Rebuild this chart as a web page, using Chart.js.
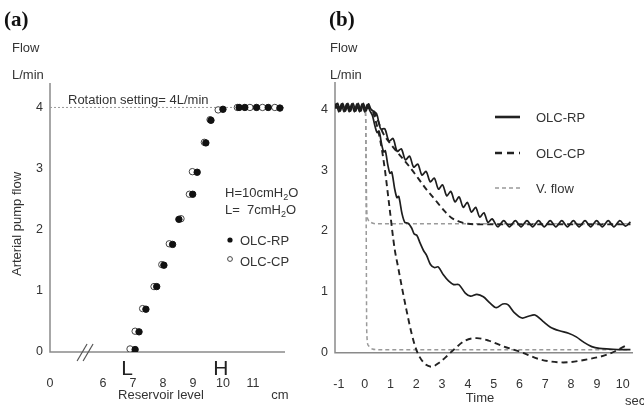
<!DOCTYPE html>
<html>
<head>
<meta charset="utf-8">
<script src="https://cdn.jsdelivr.net/npm/chart.js@4.4.1/dist/chart.umd.min.js"></script>
<style>
  html, body { margin: 0; padding: 0; background: #fff; }
  body { width: 644px; height: 409px; position: relative; overflow: hidden; font-family: "Liberation Sans", Arial, sans-serif; color: #333; }
  canvas { position: absolute; top: 0; }
  .lbl { position: absolute; font-size: 13px; line-height: 14px; white-space: nowrap; color: #333; }
  .panel { position: absolute; font: bold 21px "Liberation Serif", "Times New Roman", serif; line-height: 21px; color: #111; }
</style>
</head>
<body>
<canvas id="left" width="322" height="409" style="left:0"></canvas>
<canvas id="right" width="334" height="409" style="left:310px"></canvas>
<div class="panel" style="left:4px;top:9px">(a)</div>
<div class="panel" style="left:329px;top:9px">(b)</div>
<div class="lbl" style="left:12px;top:41px">Flow</div>
<div class="lbl" style="left:12px;top:68px">L/min</div>
<div class="lbl" style="left:330px;top:41px">Flow</div>
<div class="lbl" style="left:330px;top:68px">L/min</div>
<script>
// ---- panel (a): flow vs reservoir level ----
var levelRP = [7.07, 7.2, 7.43, 7.79, 8.03, 8.32, 8.53, 8.99, 9.14, 9.43, 9.6, 10.0, 10.54, 10.73, 11.12, 11.51, 11.9];
var flowRP = [0.04, 0.33, 0.70, 1.07, 1.42, 1.76, 2.17, 2.58, 2.94, 3.42, 3.79, 3.97, 4.0, 4.0, 4.0, 4.0, 3.99];
var levelCP = [6.9, 7.07, 7.32, 7.7, 7.96, 8.21, 8.6, 8.88, 8.98, 9.38, 9.57, 9.84, 10.48, 10.9, 11.32, 11.73];
var flowCP = [0.05, 0.34, 0.71, 1.07, 1.43, 1.77, 2.18, 2.58, 2.95, 3.43, 3.80, 3.96, 4.0, 4.0, 4.0, 4.0];
var levelTicks = [4.23, 6, 7, 8, 9, 10, 11];
var levelTickLabels = ['0', '6', '7', '8', '9', '10', '11'];
var levelMin = 4.23, levelMax = 12.07, levelBreak = 5.4;
var levelLow = 7, levelHigh = 10;
var rotationSetting = 4;
var flowTicks = [0, 1, 2, 3, 4];

// ---- panel (b): flow vs time ----
var tRPHigh = [-1.15, -1.05, -0.95, -0.85, -0.75, -0.65, -0.55, -0.45, -0.35, -0.25, -0.15, -0.05, 0.05, 0.15, 0.25,
  0.46, 0.62, 0.78, 0.94, 1.10, 1.26, 1.42, 1.58, 1.74, 1.90, 2.06, 2.22, 2.38, 2.54, 2.70, 2.86, 3.02, 3.18, 3.34,
  3.50, 3.66, 3.82, 3.98, 4.14, 4.30, 4.46, 4.62, 4.78, 4.94, 5.16, 5.39, 5.61, 5.84, 6.06, 6.29, 6.51, 6.74, 6.96,
  7.19, 7.41, 7.64, 7.86, 8.09, 8.31, 8.54, 8.76, 8.99, 9.21, 9.44, 9.66, 9.89, 10.11, 10.3];
var fRPHigh = [4.03, 4.10, 3.97, 4.10, 3.97, 4.10, 3.97, 4.10, 3.97, 4.10, 3.97, 4.10, 3.97, 4.09, 4.00,
  3.93, 3.68, 3.68, 3.48, 3.52, 3.31, 3.35, 3.17, 3.23, 3.05, 3.10, 2.92, 2.98, 2.81, 2.87, 2.69, 2.76, 2.58, 2.65,
  2.48, 2.56, 2.39, 2.47, 2.31, 2.39, 2.23, 2.30, 2.14, 2.20, 2.07, 2.17, 2.07, 2.17, 2.07, 2.17, 2.07, 2.17, 2.07,
  2.17, 2.07, 2.17, 2.07, 2.17, 2.07, 2.17, 2.07, 2.17, 2.07, 2.17, 2.07, 2.17, 2.08, 2.15];
var tRPLow = [-1.15, -1.1, -1.0, -0.9, -0.8, -0.7, -0.6, -0.5, -0.4, -0.3, -0.2, -0.1, 0.0, 0.1, 0.2,
  0.30, 0.38, 0.48, 0.56, 0.66, 0.74, 0.80, 0.90, 0.98, 1.05, 1.16, 1.25, 1.32, 1.45, 1.56, 1.68, 1.82, 1.92, 2.02,
  2.15, 2.28, 2.40, 2.55, 2.70, 2.85, 3.05, 3.25, 3.45, 3.65, 3.90, 4.10, 4.35, 4.60, 4.85, 5.10, 5.35, 5.55, 5.80,
  6.10, 6.35, 6.60, 6.90, 7.20, 7.55, 7.90, 8.20, 8.50, 8.80, 9.10, 9.50, 9.90, 10.3];
var fRPLow = [4.03, 4.09, 3.96, 4.09, 3.96, 4.09, 3.96, 4.09, 3.96, 4.09, 3.96, 4.09, 3.96, 4.08, 3.98,
  3.90, 3.76, 3.62, 3.64, 3.42, 3.30, 3.32, 3.08, 2.95, 2.97, 2.70, 2.55, 2.57, 2.28, 2.14, 2.13, 2.05, 1.95, 1.93,
  1.80, 1.68, 1.60, 1.45, 1.40, 1.41, 1.28, 1.18, 1.12, 1.12, 0.98, 0.93, 0.96, 0.92, 0.82, 0.74, 0.80, 0.79, 0.66,
  0.57, 0.60, 0.62, 0.52, 0.42, 0.36, 0.32, 0.26, 0.17, 0.10, 0.07, 0.06, 0.05, 0.05];
var tCPHigh = [-1.15, 0.25, 0.45, 0.7, 1.1, 1.42, 1.75, 2.07, 2.4, 2.72, 3.05, 3.36, 3.7, 4.0, 4.5, 10.3];
var fCPHigh = [4.03, 4.02, 3.88, 3.62, 3.38, 3.22, 3.05, 2.87, 2.68, 2.52, 2.35, 2.22, 2.15, 2.12, 2.11, 2.11];
var tCPLow = [-1.15, 0.25, 0.4, 0.6, 0.78, 0.97, 1.16, 1.29, 1.45, 1.62, 1.8, 2.0, 2.3, 2.6, 2.9, 3.2, 3.45,
  3.9, 4.35, 4.8, 5.4, 6.0, 6.8, 7.7, 8.5, 9.4, 10.15];
var fCPLow = [4.03, 4.02, 3.85, 3.5, 3.02, 2.36, 1.71, 1.42, 1.06, 0.70, 0.35, 0.05, -0.17, -0.23, -0.16, -0.05, 0.05,
  0.20, 0.24, 0.20, 0.10, 0.02, -0.11, -0.16, -0.12, -0.03, 0.12];
var tVHigh = [-1.15, 0.0, 0.04, 0.06, 0.08, 0.13, 0.25, 0.5, 10.3];
var fVHigh = [4.04, 4.04, 3.85, 3.0, 2.35, 2.19, 2.14, 2.12, 2.12];
var tVLow = [-1.15, 0.0, 0.04, 0.06, 0.08, 0.14, 0.3, 0.5, 10.3];
var fVLow = [4.04, 4.04, 3.85, 2.0, 0.35, 0.12, 0.06, 0.05, 0.05];
var timeTicks = [-1, 0, 1, 2, 3, 4, 5, 6, 7, 8, 9, 10];
var timeMin = -1.15, timeMax = 10.4;
var seriesNames = ['OLC-RP', 'OLC-CP', 'V. flow'];

var FONT = '"Liberation Sans", Arial, sans-serif';
var INK = '#333';

function pts(xs, ys) {
  return xs.map(function (v, i) { return { x: v, y: ys[i] }; });
}

// axis lines drawn from the scales (y axis down to 0, x axis along 0)
var axisLines = {
  id: 'axisLines',
  beforeDatasetsDraw: function (chart) {
    var ctx = chart.ctx, a = chart.chartArea, y0 = chart.scales.y.getPixelForValue(0);
    ctx.save();
    ctx.strokeStyle = '#8a8a8a';
    ctx.lineWidth = 1.5;
    ctx.beginPath();
    ctx.moveTo(a.left, a.top);
    ctx.lineTo(a.left, y0);
    ctx.lineTo(a.right, y0);
    ctx.stroke();
    ctx.restore();
  }
};

function subText(ctx, parts, x, y) {
  // parts: [text, isSub]
  parts.forEach(function (p) {
    ctx.font = (p[1] ? '9px ' : '13px ') + FONT;
    ctx.fillText(p[0], x, p[1] ? y + 3 : y);
    x += ctx.measureText(p[0]).width;
  });
}

var leftNotes = {
  id: 'leftNotes',
  afterDatasetsDraw: function (chart) {
    var ctx = chart.ctx, x = chart.scales.x, y = chart.scales.y, a = chart.chartArea;
    var y0 = y.getPixelForValue(0);
    ctx.save();
    ctx.fillStyle = INK;
    ctx.textAlign = 'left';
    ctx.textBaseline = 'alphabetic';
    ctx.font = '13px ' + FONT;
    ctx.fillText('Rotation setting= 4L/min', a.left + 18, y.getPixelForValue(rotationSetting) - 3);

    subText(ctx, [['H=10cmH', 0], ['2', 1], ['O', 0]], 225, 197);
    subText(ctx, [['L=  7cmH', 0], ['2', 1], ['O', 0]], 225, 214);

    // legend
    ctx.font = '13px ' + FONT;
    ctx.fillText(seriesNames[0], 240, 245);
    ctx.fillText(seriesNames[1], 240, 266);
    ctx.beginPath();
    ctx.arc(230, 240, 2.6, 0, Math.PI * 2);
    ctx.fillStyle = '#111';
    ctx.fill();
    ctx.beginPath();
    ctx.arc(230, 259, 2.4, 0, Math.PI * 2);
    ctx.fillStyle = '#fff';
    ctx.fill();
    ctx.strokeStyle = '#444';
    ctx.lineWidth = 1;
    ctx.stroke();

    // L and H marks
    ctx.fillStyle = '#222';
    ctx.textAlign = 'center';
    ctx.font = '21px ' + FONT;
    ctx.fillText('L', x.getPixelForValue(levelLow) - 6, y0 + 23);
    ctx.fillText('H', x.getPixelForValue(levelHigh) - 2, y0 + 23);

    // axis break
    var bx = x.getPixelForValue(levelBreak);
    ctx.strokeStyle = '#555';
    ctx.lineWidth = 1.2;
    [-3, 3].forEach(function (d) {
      ctx.beginPath();
      ctx.moveTo(bx + d - 5, y0 + 9);
      ctx.lineTo(bx + d + 5, y0 - 8);
      ctx.stroke();
    });

    // titles
    ctx.fillStyle = INK;
    ctx.font = '13px ' + FONT;
    ctx.fillText('Reservoir level', 161, 399);
    ctx.fillText('cm', 280, 399);
    ctx.translate(21, 224);
    ctx.rotate(-Math.PI / 2);
    ctx.fillText('Arterial pump flow', 0, 0);
    ctx.restore();
  }
};

var rightNotes = {
  id: 'rightNotes',
  afterDatasetsDraw: function (chart) {
    var ctx = chart.ctx, a = chart.chartArea;
    var styles = [
      { dash: [], color: '#222', w: 2.6 },
      { dash: [7, 5], color: '#222', w: 2.6 },
      { dash: [4, 3], color: '#999', w: 1.6 }
    ];
    var rows = [117, 153, 188];
    ctx.save();
    seriesNames.forEach(function (name, i) {
      var s = styles[i];
      ctx.strokeStyle = s.color;
      ctx.lineWidth = s.w;
      ctx.setLineDash(s.dash);
      ctx.beginPath();
      ctx.moveTo(a.left + 160, rows[i]);
      ctx.lineTo(a.left + 185, rows[i]);
      ctx.stroke();
      ctx.setLineDash([]);
      ctx.fillStyle = INK;
      ctx.font = '13px ' + FONT;
      ctx.textBaseline = 'middle';
      ctx.fillText(name, a.left + 201, rows[i] + 1);
    });
    ctx.textBaseline = 'alphabetic';
    ctx.textAlign = 'center';
    ctx.fillText('Time', 170, 402);
    ctx.textAlign = 'left';
    ctx.fillText('sec', 315, 405);
    ctx.restore();
  }
};

var tickFont = { family: FONT, size: 12.5 };

new Chart(document.getElementById('left'), {
  type: 'scatter',
  data: {
    datasets: [
      { label: seriesNames[0], data: pts(levelRP, flowRP), pointRadius: 3.2, pointBackgroundColor: '#111', pointBorderColor: '#111', pointBorderWidth: 1 },
      { label: seriesNames[1], data: pts(levelCP, flowCP), pointRadius: 3.2, pointBackgroundColor: '#fff', pointBorderColor: '#444', pointBorderWidth: 1 },
      { type: 'line', label: 'Rotation setting', data: [{ x: levelMin, y: rotationSetting }, { x: levelMax, y: rotationSetting }],
        borderColor: '#9a9a9a', borderWidth: 1, borderDash: [2, 2], pointRadius: 0 }
    ]
  },
  options: {
    responsive: false,
    animation: false,
    events: [],
    layout: { padding: { left: 0, right: 37, top: 83, bottom: 0 } },
    plugins: { legend: { display: false }, tooltip: { enabled: false } },
    scales: {
      x: {
        type: 'linear', min: levelMin, max: levelMax,
        grid: { display: false, drawTicks: false }, border: { display: false },
        afterBuildTicks: function (s) { s.ticks = levelTicks.map(function (v) { return { value: v }; }); },
        afterFit: function (s) { s.height = 57; },
        ticks: { font: tickFont, color: INK, padding: 24, maxRotation: 0,
          callback: function (v) { return levelTickLabels[levelTicks.indexOf(v)]; } }
      },
      y: {
        min: 0, max: 4.4,
        grid: { display: false, drawTicks: false }, border: { display: false },
        afterBuildTicks: function (s) { s.ticks = flowTicks.map(function (v) { return { value: v }; }); },
        afterFit: function (s) { s.width = 50; },
        ticks: { font: tickFont, color: INK, padding: 7 }
      }
    }
  },
  plugins: [axisLines, leftNotes]
});

function curve(label, xs, ys, color, width, dash, mode, order) {
  return {
    label: label, data: pts(xs, ys), borderColor: color, borderWidth: width, borderDash: dash,
    pointRadius: 0, fill: false, showLine: true, order: order,
    tension: mode === 'bezier' ? 0.3 : 0, cubicInterpolationMode: mode === 'monotone' ? 'monotone' : 'default'
  };
}

new Chart(document.getElementById('right'), {
  type: 'scatter',
  data: {
    datasets: [
      curve(seriesNames[2], tVHigh, fVHigh, '#9a9a9a', 1.5, [4, 3], 'monotone', 5),
      curve(seriesNames[2], tVLow, fVLow, '#9a9a9a', 1.5, [4, 3], 'monotone', 4),
      curve(seriesNames[1], tCPHigh, fCPHigh, '#222', 1.9, [6, 4], 'monotone', 3),
      curve(seriesNames[1], tCPLow, fCPLow, '#222', 1.9, [6, 4], 'monotone', 2),
      curve(seriesNames[0], tRPHigh, fRPHigh, '#1e1e1e', 1.7, [], 'bezier', 1),
      curve(seriesNames[0], tRPLow, fRPLow, '#1e1e1e', 1.7, [], 'bezier', 0)
    ]
  },
  options: {
    responsive: false,
    animation: false,
    events: [],
    layout: { padding: { left: 0, right: 11, top: 82, bottom: 0 } },
    plugins: { legend: { display: false }, tooltip: { enabled: false } },
    scales: {
      x: {
        type: 'linear', min: timeMin, max: timeMax,
        grid: { display: false, drawTicks: false }, border: { display: false },
        afterBuildTicks: function (s) { s.ticks = timeTicks.map(function (v) { return { value: v }; }); },
        afterFit: function (s) { s.height = 35; },
        ticks: { font: tickFont, color: INK, padding: 3, maxRotation: 0 }
      },
      y: {
        min: -0.35, max: 4.45,
        grid: { display: false, drawTicks: false }, border: { display: false },
        afterBuildTicks: function (s) { s.ticks = flowTicks.map(function (v) { return { value: v }; }); },
        afterFit: function (s) { s.width = 25; },
        ticks: { font: tickFont, color: INK, padding: 7 }
      }
    }
  },
  plugins: [axisLines, rightNotes]
});
</script>
</body>
</html>
